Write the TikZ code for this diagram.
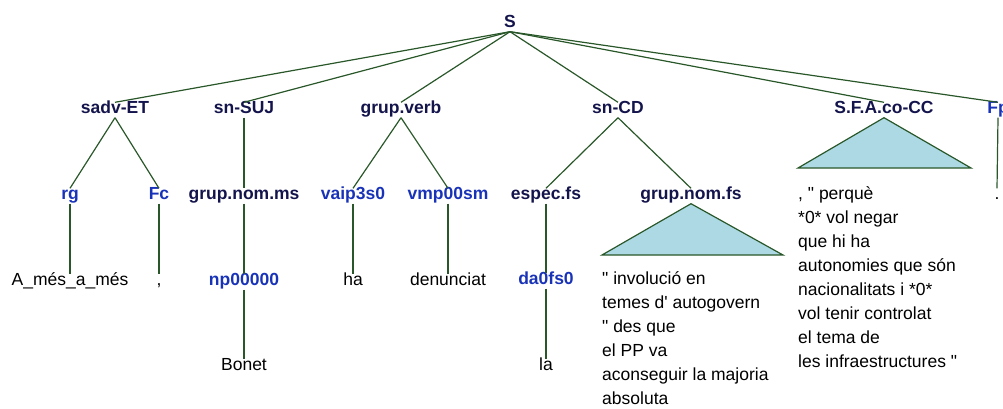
\documentclass[tikz,border=0pt]{standalone}
\usepackage{fontspec}
\setmainfont{Liberation Sans}
\usetikzlibrary{positioning}
\newcommand{\qd}{\textquotedbl}
\newcommand{\qs}{\textquotesingle}
\begin{document}
\begin{tikzpicture}[x=1pt,y=-1pt,
  every node/.style={inner sep=2pt,text height=0.85em,text depth=0.25em,anchor=base,
    font=\fontsize{17.5}{24}\selectfont},
  cat/.style={text=ccat,font=\fontsize{17.5}{24}\selectfont\bfseries},
  tag/.style={text=ctag,font=\fontsize{17.5}{24}\selectfont\bfseries},
  word/.style={text=black},
  block/.style={align=left,anchor=base west,text height={},text depth={},inner sep=0pt},
  lnk/.style={draw=cedge,line width=1.2pt},
  tri/.style={draw=cedge,fill=ctri,line width=1.2pt,line join=miter}]
%
\useasboundingbox (0,0) rectangle (1003,408);
%
\definecolor{ccat}{rgb}{0.08,0.08,0.30}
\definecolor{ctag}{rgb}{0.10,0.20,0.72}
\definecolor{cedge}{rgb}{0.16,0.34,0.16}
\definecolor{ctri}{rgb}{0.68,0.85,0.90}
%
\node[cat] (S) at (510,27) {S};
%
\node[cat] (sadvET) at (115,113) {sadv-ET};
\node[cat] (snSUJ) at (244,113) {sn-SUJ};
\node[cat] (grupverb) at (401,113) {grup.verb};
\node[cat] (snCD) at (618,113) {sn-CD};
\node[cat] (SFA) at (884,113) {S.F.A.co-CC};
\node[tag] (Fp) at (998,113) {Fp};
%
\node[tag] (rg) at (70,199) {rg};
\node[tag] (Fc) at (159,199) {Fc};
\node[cat] (grupnomms) at (244,199) {grup.nom.ms};
\node[tag] (vaip3s0) at (353,199) {vaip3s0};
\node[tag] (vmp00sm) at (448,199) {vmp00sm};
\node[cat] (especfs) at (546,199) {espec.fs};
\node[cat] (grupnomfs) at (691,199) {grup.nom.fs};
\node[word] (Fpdot) at (997,199) {.};
%
\node[word] (Ames) at (70,285) {A\_més\_a\_més};
\node[word] (comma) at (159,285) {,};
\node[tag] (np00000) at (244,285) {np00000};
\node[word] (ha) at (353,285) {ha};
\node[word] (denunciat) at (448,285) {denunciat};
\node[tag] (da0fs0) at (546,284) {da0fs0};
%
\node[word] (Bonet) at (244,370) {Bonet};
\node[word] (la) at (546,370) {la};
%
\coordinate (SFAl) at (798,168);
\coordinate (SFAr) at (971,168);
\coordinate (fsl) at (602,255);
\coordinate (fsr) at (783,255);
% base of a block is its last line
\node[word,block] (SFAtext) at (798,367) {, \qd{} perquè\\*0* vol negar\\que hi ha\\autonomies que són\\nacionalitats i *0*\\vol tenir controlat\\el tema de\\les infraestructures \qd};
\node[word,block] (fstext) at (602,404) {\qd{} involució en\\temes d\qs{} autogovern\\\qd{} des que\\el PP va\\aconseguir la majoria\\absoluta};
%
\foreach \c in {sadvET,snSUJ,grupverb,snCD,SFA,Fp}
  \draw[lnk] (S.south) -- (\c.north);
\draw[lnk] (sadvET.south) -- (rg.north);
\draw[lnk] (sadvET.south) -- (Fc.north);
\draw[lnk] (snSUJ.south) -- (grupnomms.north);
\draw[lnk] (grupverb.south) -- (vaip3s0.north);
\draw[lnk] (grupverb.south) -- (vmp00sm.north);
\draw[lnk] (snCD.south) -- (especfs.north);
\draw[lnk] (snCD.south) -- (grupnomfs.north);
\draw[lnk] (Fp.south) -- (Fpdot.north);
\draw[lnk] (rg.south) -- (Ames.north);
\draw[lnk] (Fc.south) -- (comma.north);
\draw[lnk] (grupnomms.south) -- (np00000.north);
\draw[lnk] (vaip3s0.south) -- (ha.north);
\draw[lnk] (vmp00sm.south) -- (denunciat.north);
\draw[lnk] (especfs.south) -- (da0fs0.north);
\draw[lnk] (np00000.south) -- (Bonet.north);
\draw[lnk] (da0fs0.south) -- (la.north);
%
\draw[tri] (SFA.south) -- (SFAl) -- (SFAr) -- cycle;
\draw[tri] (grupnomfs.south) -- (fsl) -- (fsr) -- cycle;
%
\end{tikzpicture}
\end{document}
